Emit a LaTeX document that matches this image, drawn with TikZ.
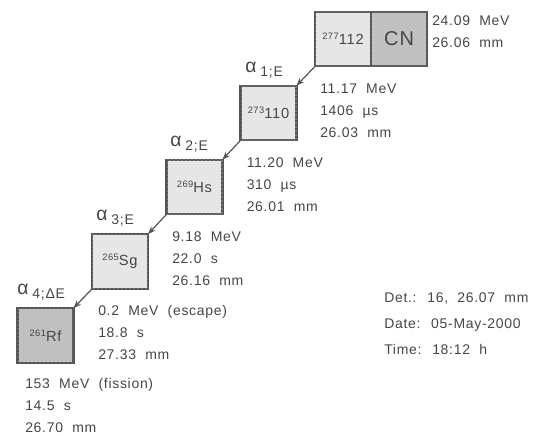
\documentclass[tikz,border=0pt]{standalone}
\usepackage{fontspec}
\setmainfont{Liberation Sans}[LetterSpace=5,WordSpace=2]
\usetikzlibrary{arrows.meta,patterns}
\definecolor{txt}{HTML}{464646}
\definecolor{edge}{HTML}{555555}
\definecolor{lightbox}{HTML}{E8E8E8}
\definecolor{darkbox}{HTML}{C4C4C4}
\tikzset{
  nuc/.style={draw=edge, line width=1.6pt, minimum width=42pt, minimum height=41pt,
    inner sep=0pt, outer sep=0pt, text=txt, font=\fontsize{11}{11}\selectfont},
  lightnuc/.style={nuc, fill=lightbox, postaction={pattern=crosshatch dots, pattern color=gray!30}},
  darknuc/.style={nuc, fill=darkbox, postaction={pattern=crosshatch dots, pattern color=gray!70}},
  info/.style={anchor=base west, inner sep=0pt, text=txt, font=\fontsize{10.5}{10.5}\selectfont},
  alab/.style={anchor=base west, inner sep=0pt, text=txt, font=\fontsize{14.5}{14.5}\selectfont},
  conn/.style={draw=edge, line width=0.9pt, -{Stealth[length=6pt,width=4.5pt]}},
}
\newcommand{\mass}[1]{\raisebox{3.5pt}{\fontsize{7}{7}\selectfont #1}}
\newcommand{\asub}[1]{\hspace{3pt}\raisebox{-3pt}{\fontsize{10.5}{10.5}\selectfont #1}}
\begin{document}
\begin{tikzpicture}[x=0.75pt,y=-0.75pt]
\useasboundingbox (0,0) rectangle (538,435);
% boxes
\node[lightnuc] (b277) at (343,39) {\mass{277}112};
\node[darknuc, anchor=west, font=\fontsize{15}{15}\selectfont] (cn) at (b277.east) {CN};
\node[lightnuc] (b273) at (268.5,113) {\mass{273}110};
\node[lightnuc] (bhs) at (194.5,187) {\mass{269}Hs};
\node[lightnuc] (bsg) at (120,261.5) {\mass{265}Sg};
\node[darknuc] (brf) at (45.5,335.5) {\mass{261}Rf};
% connectors
\draw[conn] (b277.south west) -- (b273.north east);
\draw[conn] (b273.south west) -- (bhs.north east);
\draw[conn] (bhs.south west) -- (bsg.north east);
\draw[conn] (bsg.south west) -- (brf.north east);
% alpha labels
\node[alab] (a1) at (245,72) {α\asub{1;E}};
\node[alab] (a2) at (170,146) {α\asub{2;E}};
\node[alab] (a3) at (96,220) {α\asub{3;E}};
\node[alab] (a4) at (17,294) {α\asub{4;ΔE}};
% info texts
\node[info] (i0a) at (432,26) {24.09 MeV};
\node[info] (i0b) at (432,48) {26.06 mm};
\node[info] (i1a) at (320,93.5) {11.17 MeV};
\node[info] (i1b) at (320,115.5) {1406 µs};
\node[info] (i1c) at (320,137.5) {26.03 mm};
\node[info] (i2a) at (246.5,167.5) {11.20 MeV};
\node[info] (i2b) at (246.5,189.5) {310 µs};
\node[info] (i2c) at (246.5,211.5) {26.01 mm};
\node[info] (i3a) at (172,241) {9.18 MeV};
\node[info] (i3b) at (172,263) {22.0 s};
\node[info] (i3c) at (172,285) {26.16 mm};
\node[info] (i4a) at (98,315) {0.2 MeV (escape)};
\node[info] (i4b) at (98,337) {18.8 s};
\node[info] (i4c) at (98,359) {27.33 mm};
\node[info] (i5a) at (25,388) {153 MeV (fission)};
\node[info] (i5b) at (25,410) {14.5 s};
\node[info] (i5c) at (25,432) {26.70 mm};
\node[info] (det) at (384,302.5) {Det.: 16, 26.07 mm};
\node[info] (date) at (384,328.5) {Date: 05-May-2000};
\node[info] (time) at (384,354) {Time: 18:12 h};
\end{tikzpicture}
\end{document}
